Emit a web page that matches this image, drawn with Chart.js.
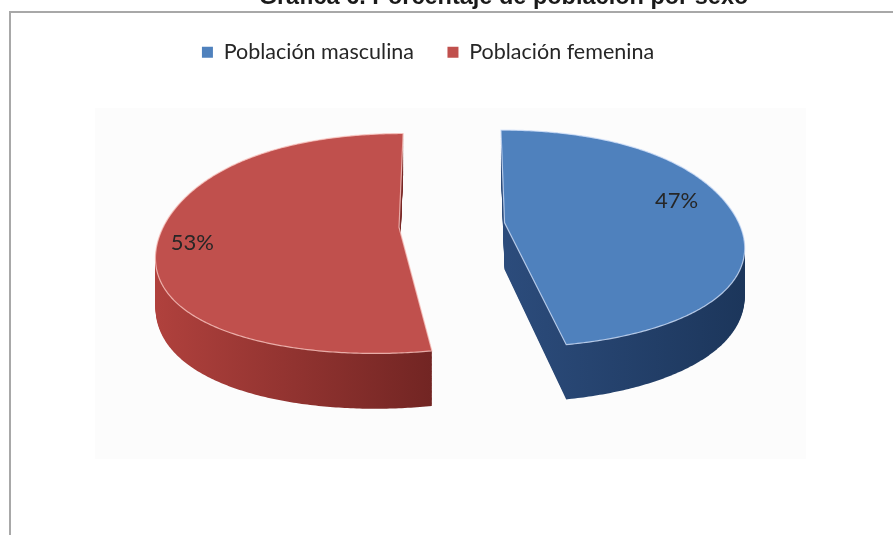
<!DOCTYPE html>
<html>
<head>
<meta charset="utf-8">
<script src="https://cdn.jsdelivr.net/npm/chart.js@4.4.1/dist/chart.umd.min.js"></script>
<style>
  html, body { margin: 0; padding: 0; background: #fff; overflow: hidden; }
  #wrap { position: relative; width: 893px; height: 535px; }
  #plotBg { position: absolute; left: 95px; top: 108px; width: 711px; height: 351px; background: #fcfcfc; }
  #frame { position: absolute; left: 9px; top: 11px; right: -10px; bottom: -10px;
           border-top: 2px solid #a8a8a8; border-left: 2px solid #a8a8a8; }
  #title { position: absolute; left: 0; width: 1007px; top: -15px; text-align: center;
           font: bold 23.5px "Liberation Sans", Arial, sans-serif; line-height: 23.5px;
           color: #1a1a1a; white-space: nowrap; }
  canvas { position: absolute; left: 0; top: 0; }
</style>
</head>
<body>
<div id="wrap">
  <div id="plotBg"></div>
  <div id="frame"></div>
  <canvas id="chart" width="893" height="535"></canvas>
  <div id="title">Gráfica 6. Porcentaje de población por sexo</div>
</div>
<script>
const categories = ["Población masculina", "Población femenina"];
const values = [47, 53];

const topColors = ["#4F81BD", "#C0504D"];
const sideColors = [["#2c4c7c", "#1c365b"], ["#b0413d", "#722523"]];
const edgeColors = ["rgba(210,225,250,0.8)", "rgba(250,200,195,0.8)"];

// fake 3d view: tilt + some perspective (near side larger), depth in px
const DEPTH = 47, TILT = 0.455, PERSP_Y = 1600, PX_A = 0.00075, PX_B = 1.87e-6, PX_SHEAR = 1.6e-4;
const EXPLODE = 53, SHIFT_X = 24;
const LABEL_ROT = -7 * Math.PI / 180, LABEL_R = 0.82, LABEL_DX = -9, LABEL_DY = -4;

const pie3d = {
  id: "pie3d",
  beforeDatasetsDraw(chart) {
    const ctx = chart.ctx;
    const arcs = chart.getDatasetMeta(0).data;
    const total = values.reduce((a, b) => a + b, 0);
    const cx = arcs[0].x + SHIFT_X, cy = arcs[0].y;

    const proj = (u, v, h) => {
      const sx = 1 + PX_A * v + PX_B * v * v;
      const sy = PERSP_Y / (PERSP_Y - v);
      const near = Math.max(v, 0);
      return [cx + u * sx - PX_SHEAR * near * near, cy + (v * TILT + h) * sy];
    };

    const outline = (arc, h) => {
      const mid = (arc.startAngle + arc.endAngle) / 2;
      const ox = Math.cos(mid) * EXPLODE, oy = Math.sin(mid) * EXPLODE;
      const pts = [proj(ox, oy, h)];
      const n = Math.ceil((arc.endAngle - arc.startAngle) / 0.01);
      for (let i = 0; i <= n; i++) {
        const a = arc.startAngle + (arc.endAngle - arc.startAngle) * i / n;
        pts.push(proj(ox + Math.cos(a) * arc.outerRadius, oy + Math.sin(a) * arc.outerRadius, h));
      }
      return pts;
    };

    const trace = (pts) => {
      ctx.beginPath();
      ctx.moveTo(pts[0][0], pts[0][1]);
      for (let i = 1; i < pts.length; i++) ctx.lineTo(pts[i][0], pts[i][1]);
      ctx.closePath();
    };

    ctx.save();
    // sides first
    arcs.forEach((arc, i) => {
      const xs = outline(arc, 0).map(p => p[0]);
      const g = ctx.createLinearGradient(Math.min(...xs), 0, Math.max(...xs), 0);
      g.addColorStop(0, sideColors[i][0]);
      g.addColorStop(1, sideColors[i][1]);
      ctx.fillStyle = g;
      for (let h = DEPTH; h > 0; h--) {
        trace(outline(arc, h));
        ctx.fill();
      }
    });
    // then the top faces
    arcs.forEach((arc, i) => {
      trace(outline(arc, 0));
      ctx.fillStyle = topColors[i];
      ctx.fill();
      ctx.strokeStyle = edgeColors[i];
      ctx.lineWidth = 1.2;
      ctx.stroke();
    });
    // percentage labels
    ctx.font = "22px Lato";
    ctx.fillStyle = "#262626";
    ctx.textAlign = "center";
    ctx.textBaseline = "middle";
    arcs.forEach((arc, i) => {
      const mid = (arc.startAngle + arc.endAngle) / 2;
      const a = mid + LABEL_ROT;
      const r = arc.outerRadius * LABEL_R;
      const p = proj(Math.cos(mid) * EXPLODE + Math.cos(a) * r, Math.sin(mid) * EXPLODE + Math.sin(a) * r, 0);
      ctx.fillText(Math.round(values[i] / total * 100) + "%", p[0] + LABEL_DX, p[1] + LABEL_DY);
    });
    ctx.restore();
    return false;
  }
};

new Chart(document.getElementById("chart"), {
  type: "pie",
  data: {
    labels: categories,
    datasets: [{
      data: values,
      backgroundColor: topColors,
      borderWidth: 0,
      radius: 235,
    }],
  },
  options: {
    responsive: false,
    animation: false,
    layout: { padding: { top: 8, left: 0, right: 37, bottom: 158 } },
    plugins: {
      legend: {
        position: "top",
        labels: {
          boxWidth: 11,
          boxHeight: 11,
          padding: 33.5,
          color: "#262626",
          font: { family: "Lato", size: 21.5 },
        },
      },
      tooltip: { enabled: false },
    },
  },
  plugins: [pie3d],
});
</script>
</body>
</html>
